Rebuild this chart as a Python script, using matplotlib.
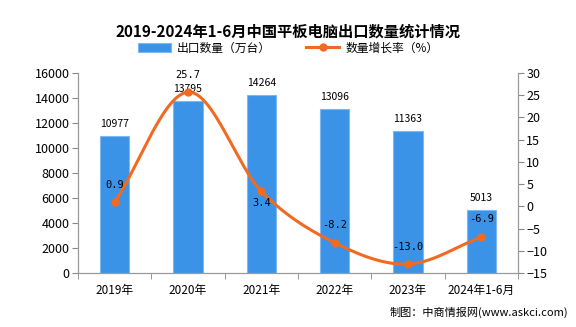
import numpy as np
import matplotlib
matplotlib.use('Agg')
import matplotlib.pyplot as plt

plt.rcParams['font.family'] = ['Noto Sans CJK SC', 'DejaVu Sans']

# data
years = ['2019年', '2020年', '2021年', '2022年', '2023年', '2024年1-6月']
qty = [10977, 13795, 14264, 13096, 11363, 5013]
growth = [0.9, 25.7, 3.4, -8.2, -13.0, -6.9]

bar_color = '#3b93e8'
line_color = '#f26a22'

fig = plt.figure(figsize=(5.76, 3.27), dpi=100)
ax = fig.add_axes([78/576, 1-273/327, (518-78)/576, 200/327])
ax2 = ax.twinx()

x = np.arange(len(years))
ax.bar(x, qty, width=0.4, color=bar_color, edgecolor='#7fb8f0', linewidth=0.8,
       label='出口数量（万台）', zorder=2)
ax.set_xlim(-0.5, len(years)-0.5)
ax.set_ylim(0, 16000)
ax.set_yticks(range(0, 16001, 2000))
ax.set_xticks(x)
ax.set_xticklabels(years, fontsize=8.5)
ax.set_xticks(np.arange(-0.5, len(years)), minor=True)
ax.tick_params(axis='x', which='major', length=0, pad=8)
ax.tick_params(axis='x', which='minor', length=4, color='#888888')
ax.tick_params(axis='y', labelsize=9, length=4, color='#888888', pad=2)

# smooth line through the points (Catmull-Rom)
def smooth(xs, ys, n=30):
    xs = np.asarray(xs, float)
    ys = np.asarray(ys, float)
    px = np.concatenate([[2*xs[0]-xs[1]], xs, [2*xs[-1]-xs[-2]]])
    py = np.concatenate([[2*ys[0]-ys[1]], ys, [2*ys[-1]-ys[-2]]])
    ox, oy = [], []
    t = np.linspace(0, 1, n)
    for i in range(1, len(px)-2):
        for p, o in ((px, ox), (py, oy)):
            p0, p1, p2, p3 = p[i-1], p[i], p[i+1], p[i+2]
            o.extend(0.5*((2*p1) + (-p0+p2)*t + (2*p0-5*p1+4*p2-p3)*t**2
                          + (-p0+3*p1-3*p2+p3)*t**3))
    return np.array(ox), np.array(oy)

sx, sy = smooth(x, growth)
ax2.plot(sx, sy, color=line_color, lw=2.2, zorder=3)
ax2.plot(x, growth, 'o', color=line_color, ms=5, zorder=4)
ax2.plot([], [], '-o', color=line_color, lw=2.2, ms=5, label='数量增长率（%）')
ax2.set_ylim(-15, 30)
ax2.set_yticks(range(-15, 31, 5))
ax2.tick_params(axis='y', labelsize=9, length=4, color='#888888', pad=2)

for a in (ax, ax2):
    a.spines['top'].set_visible(False)
    for s in ('left', 'right', 'bottom'):
        a.spines[s].set_color('#999999')

# value labels
for i, v in enumerate(qty):
    ax.annotate(str(v), (i, v), xytext=(0, 5), textcoords='offset points',
                ha='center', va='bottom', fontsize=7.5)

offs = [9, 8.5, -5, 9, 9, 9]
for i, g in enumerate(growth):
    dy = offs[i]
    ax2.annotate('%.1f' % g, (i, g), xytext=(0, dy), textcoords='offset points',
                 ha='center', va='bottom' if dy > 0 else 'top', fontsize=7.5,
                 family=['DejaVu Sans Mono'], zorder=5)

fig.text(0.5, 1-32/327, '2019-2024年1-6月中国平板电脑出口数量统计情况',
         ha='center', va='center', fontsize=11, fontweight='bold')
h1, l1 = ax.get_legend_handles_labels()
h2, l2 = ax2.get_legend_handles_labels()
fig.legend(h1+h2, l1+l2, loc='center', bbox_to_anchor=(0.5, 1-48/327), ncol=2,
           frameon=False, fontsize=8.5, handlelength=2.8, columnspacing=3,
           handletextpad=0.5, borderaxespad=0)
fig.text(1-8/576, 1-312/327, '制图：中商情报网(www.askci.com)', ha='right',
         va='center', fontsize=8)

fig.savefig('out.png', dpi=100)
